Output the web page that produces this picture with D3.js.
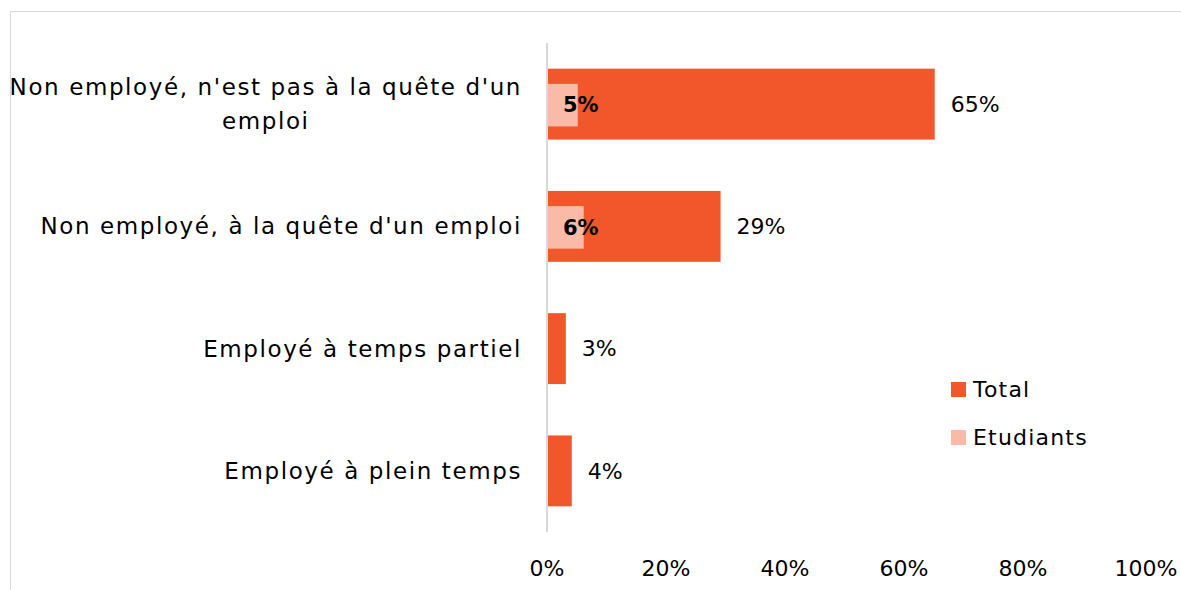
<!DOCTYPE html>
<html lang="fr">
<head>
<meta charset="utf-8">
<title>Statut d'emploi</title>
<script src="https://cdnjs.cloudflare.com/ajax/libs/d3/7.8.5/d3.min.js"></script>
<style>
  body { margin: 0; background: #fff; }
  text { font-family: "DejaVu Sans", sans-serif; fill: #000; }
  .cat { letter-spacing: 1.6px; }
  .lgt { letter-spacing: 1.2px; }
</style>
</head>
<body>
<script>
// data, top to bottom
var categories = ["Non employé, n'est pas à la quête d'un emploi", "Non employé, à la quête d'un emploi", "Employé à temps partiel", "Employé à plein temps"];
var total = [65, 29, 3, 4];
var etudiants = [5, 6, null, null];
var ticks = [0, 20, 40, 60, 80, 100];
var seriesNames = ["Total", "Etudiants"];
var colors = ["#F1572B", "#F9BBA7"];

var w = 1181, h = 590;
var svg = d3.select("body").append("svg").attr("width", w).attr("height", h);

// frame
svg.append("path")
  .attr("d", "M10.5," + h + "V11.5H" + w)
  .attr("fill", "none").attr("stroke", "#d9d9d9").attr("stroke-width", 1);

var x = d3.scaleLinear().domain([0, 100]).range([547, 1142]);
var y = d3.scaleBand().domain(categories).range([43, 532]).paddingInner(0.42).paddingOuter(0.21);

// axis line
svg.append("line")
  .attr("x1", x(0)).attr("x2", x(0)).attr("y1", 43).attr("y2", 532)
  .attr("stroke", "#d9d9d9").attr("stroke-width", 2);

// bars
svg.selectAll(".tot").data(total).enter().append("rect")
  .attr("class", "tot")
  .attr("x", x(0) + 1)
  .attr("y", function(d, i) { return y(categories[i]); })
  .attr("width", function(d) { return x(d) - x(0); })
  .attr("height", y.bandwidth())
  .attr("fill", colors[0]);

var etuData = etudiants.map(function(d, i) { return {v: d, c: categories[i]}; }).filter(function(d) { return d.v != null; });
var inner = y.bandwidth() * 0.6;
svg.selectAll(".etu").data(etuData).enter().append("rect")
  .attr("class", "etu")
  .attr("x", x(0) + 1)
  .attr("y", function(d) { return y(d.c) + (y.bandwidth() - inner) / 2 + 1; })
  .attr("width", function(d) { return x(d.v) - x(0); })
  .attr("height", inner)
  .attr("fill", colors[1]);

// value labels
svg.selectAll(".totlab").data(total).enter().append("text")
  .attr("x", function(d) { return x(d) + 17; })
  .attr("y", function(d, i) { return y(categories[i]) + y.bandwidth() / 2; })
  .attr("dy", "0.35em")
  .style("font-size", "22px")
  .text(function(d) { return d + "%"; });

svg.selectAll(".etulab").data(etuData).enter().append("text")
  .attr("x", x(0) + 16)
  .attr("y", function(d) { return y(d.c) + y.bandwidth() / 2 + 1; })
  .attr("dy", "0.35em")
  .style("font-size", "21px").style("font-weight", "bold")
  .text(function(d) { return d.v + "%"; });

// category labels (wrapped, right aligned block)
var right = 522, maxW = 530;
categories.forEach(function(c) {
  var cy = y(c) + y.bandwidth() / 2;
  var t = svg.append("text").attr("class", "cat").style("font-size", "23px");
  var words = c.split(" "), lines = [], cur = [];
  words.forEach(function(wd) {
    cur.push(wd);
    t.text(cur.join(" "));
    if (t.node().getComputedTextLength() > maxW && cur.length > 1) {
      cur.pop();
      lines.push(cur.join(" "));
      cur = [wd];
    }
  });
  lines.push(cur.join(" "));
  t.text(null);
  var widths = lines.map(function(l) { t.text(l); return t.node().getComputedTextLength(); });
  t.text(null);
  var bw = d3.max(widths);
  var lh = 34;
  lines.forEach(function(l, k) {
    t.append("tspan")
      .attr("x", lines.length > 1 ? right - bw / 2 : right)
      .attr("y", cy + (k - (lines.length - 1) / 2) * lh)
      .attr("dy", "0.35em")
      .attr("text-anchor", lines.length > 1 ? "middle" : "end")
      .text(l);
  });
});

// x tick labels
svg.selectAll(".tick").data(ticks).enter().append("text")
  .attr("x", function(d) { return x(d) + (d == 100 ? 4 : 0); })
  .attr("y", 568)
  .attr("dy", "0.35em")
  .attr("text-anchor", "middle")
  .style("font-size", "22px")
  .text(function(d) { return d + "%"; });

// legend
var lg = svg.selectAll(".lg").data(seriesNames).enter().append("g")
  .attr("transform", function(d, i) { return "translate(951," + (382 + i * 48) + ")"; });
lg.append("rect").attr("width", 15).attr("height", 15)
  .attr("fill", function(d, i) { return colors[i]; });
lg.append("text").attr("class", "lgt").attr("x", 22).attr("y", 7.5).attr("dy", "0.35em")
  .style("font-size", "22px")
  .text(function(d) { return d; });
</script>
</body>
</html>
